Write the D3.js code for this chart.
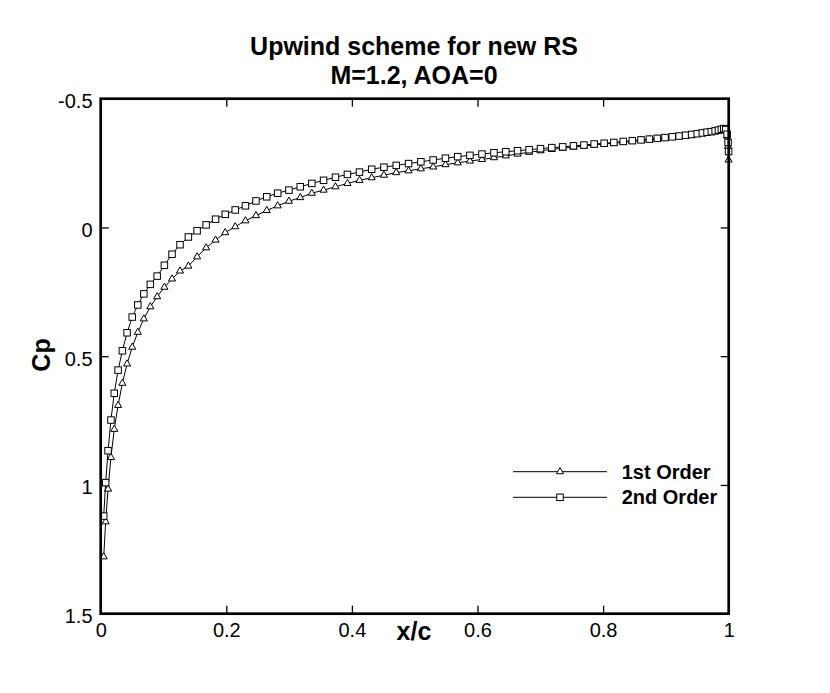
<!DOCTYPE html>
<html><head><meta charset="utf-8">
<script src="https://cdn.jsdelivr.net/npm/d3@7"></script>
<style>body{margin:0;background:#fff} text{font-family:"Liberation Sans",Arial,Helvetica,sans-serif}</style>
</head><body><svg id="c" width="830" height="693"></svg>
<script>
// x/c of surface cells
const xc = [0.0048,0.0079,0.0117,0.0163,0.0216,0.0277,0.0345,0.0420,0.0502,0.0591,
0.0687,0.0790,0.0899,0.1014,0.1136,0.1263,0.1396,0.1535,0.1679,0.1829,
0.1983,0.2142,0.2305,0.2472,0.2644,0.2818,0.2997,0.3178,0.3362,0.3549,
0.3738,0.3929,0.4121,0.4315,0.4510,0.4706,0.4902,0.5098,0.5294,0.5490,
0.5685,0.5879,0.6071,0.6262,0.6451,0.6638,0.6822,0.7003,0.7182,0.7357,
0.7528,0.7695,0.7858,0.8017,0.8171,0.8321,0.8465,0.8604,0.8737,0.8864,
0.8986,0.9101,0.9210,0.9313,0.9409,0.9498,0.9580,0.9655,0.9723,0.9784,
0.9837,0.9883,0.9921,0.9952,0.9975,0.9990,0.9998];
// Cp, 1st order (triangles)
const cpFirst = [1.279,1.143,1.016,0.893,0.784,0.691,0.605,0.530,0.465,0.407,
0.355,0.308,0.269,0.232,0.200,0.169,0.150,0.114,0.079,0.049,
0.020,-0.003,-0.026,-0.046,-0.066,-0.084,-0.102,-0.116,-0.133,-0.145,
-0.158,-0.171,-0.183,-0.193,-0.203,-0.213,-0.220,-0.228,-0.235,-0.244,
-0.251,-0.258,-0.264,-0.271,-0.278,-0.285,-0.292,-0.298,-0.303,-0.308,
-0.312,-0.316,-0.320,-0.324,-0.327,-0.331,-0.334,-0.338,-0.341,-0.344,
-0.347,-0.350,-0.353,-0.356,-0.359,-0.362,-0.365,-0.368,-0.370,-0.373,
-0.376,-0.379,-0.382,-0.378,-0.355,-0.315,-0.262];
// Cp, 2nd order (squares)
const cpSecond = [1.121,0.991,0.867,0.748,0.644,0.554,0.479,0.409,0.348,0.301,
0.258,0.221,0.189,0.147,0.104,0.067,0.037,0.013,-0.010,-0.032,
-0.051,-0.068,-0.084,-0.103,-0.119,-0.133,-0.145,-0.158,-0.171,-0.183,
-0.195,-0.206,-0.215,-0.226,-0.234,-0.241,-0.248,-0.255,-0.262,-0.269,
-0.275,-0.280,-0.285,-0.290,-0.294,-0.298,-0.302,-0.306,-0.310,-0.313,
-0.317,-0.320,-0.324,-0.327,-0.330,-0.334,-0.337,-0.340,-0.343,-0.346,
-0.349,-0.352,-0.355,-0.358,-0.361,-0.364,-0.367,-0.370,-0.372,-0.375,
-0.378,-0.381,-0.384,-0.380,-0.362,-0.330,-0.295];
const xTicks = [0,0.2,0.4,0.6,0.8,1];
const xTickLabels = ["0","0.2","0.4","0.6","0.8","1"];
const yTicks = [-0.5,0,0.5,1,1.5];
const yTickLabels = ["-0.5","0","0.5","1","1.5"];
const seriesNames = ["1st Order","2nd Order"];
const titleLines = ["Upwind scheme for new RS","M=1.2, AOA=0"];

const svg = d3.select("#c");
const L=100.7,R=728.7,T=98.7,B=613.7;
const x = d3.scaleLinear().domain([0,1]).range([L,R]);
const y = d3.scaleLinear().domain([-0.5,1.5]).range([T,B]);

// axes
const gB = svg.append("g").attr("transform",`translate(0,${B})`)
  .call(d3.axisBottom(x).tickValues(xTicks).tickFormat((d,i)=>xTickLabels[i]).tickSizeInner(-8).tickSizeOuter(0).tickPadding(9));
const gT = svg.append("g").attr("transform",`translate(0,${T})`)
  .call(d3.axisTop(x).tickValues(xTicks).tickFormat("").tickSizeInner(-8).tickSizeOuter(0));
const gL = svg.append("g").attr("transform",`translate(${L},0)`)
  .call(d3.axisLeft(y).tickValues(yTicks).tickFormat((d,i)=>yTickLabels[i]).tickSizeInner(-8).tickSizeOuter(0).tickPadding(8.2));
const gR = svg.append("g").attr("transform",`translate(${R},0)`)
  .call(d3.axisRight(y).tickValues(yTicks).tickFormat("").tickSizeInner(-8).tickSizeOuter(0));
[gB,gT,gL,gR].forEach(g=>{
  g.select(".domain").remove();
  g.selectAll(".tick line").attr("stroke","#000").attr("stroke-width",1.3);
  g.selectAll("text").attr("font-size",20).attr("fill","#000").style("font-family",'"Liberation Sans",Arial,sans-serif');
});
gL.selectAll("text").attr("dy","0.45em");

// curves
const line = d3.line().x(d=>x(d[0])).y(d=>y(d[1]));
const d1 = xc.map((v,i)=>[v,cpFirst[i]]);
const d2 = xc.map((v,i)=>[v,cpSecond[i]]);
const triPath = d3.symbol(d3.symbolTriangle, 22)();
const sq = 6.5;

function drawSeries(data, kind){
  svg.append("path").datum(data).attr("d",line).attr("fill","none").attr("stroke","#000").attr("stroke-width",1);
  const g = svg.append("g");
  if(kind==="tri"){
    g.selectAll("path").data(data).join("path").attr("d",triPath)
      .attr("transform",d=>`translate(${x(d[0])},${y(d[1])})`)
      .attr("fill","#fff").attr("stroke","#000").attr("stroke-width",1);
  } else {
    g.selectAll("rect").data(data).join("rect")
      .attr("x",d=>x(d[0])-sq/2).attr("y",d=>y(d[1])-sq/2).attr("width",sq).attr("height",sq)
      .attr("fill","#fff").attr("stroke","#000").attr("stroke-width",1);
  }
}
drawSeries(d1,"tri");
drawSeries(d2,"sq");

// frame
svg.append("rect").attr("x",L).attr("y",T).attr("width",R-L).attr("height",B-T)
  .attr("fill","none").attr("stroke","#000").attr("stroke-width",2.7);

// legend
const legY = [471.7,497.3];
seriesNames.forEach((n,i)=>{
  svg.append("line").attr("x1",513).attr("x2",607).attr("y1",legY[i]).attr("y2",legY[i]).attr("stroke","#000").attr("stroke-width",1);
  if(i===0){
    svg.append("path").attr("d",triPath).attr("transform",`translate(560,${legY[i]})`).attr("fill","#fff").attr("stroke","#000");
  } else {
    svg.append("rect").attr("x",560-sq/2).attr("y",legY[i]-sq/2).attr("width",sq).attr("height",sq).attr("fill","#fff").attr("stroke","#000");
  }
  svg.append("text").attr("x",621.7).attr("y",legY[i]+7).attr("font-size",20).attr("font-weight","bold").text(n);
});

// titles
svg.append("text").attr("x",414).attr("y",55).attr("text-anchor","middle").attr("font-size",25).attr("font-weight","bold").text(titleLines[0]);
svg.append("text").attr("x",414).attr("y",84).attr("text-anchor","middle").attr("font-size",25).attr("font-weight","bold").text(titleLines[1]);
svg.append("text").attr("x",414).attr("y",640).attr("text-anchor","middle").attr("font-size",25).attr("font-weight","bold").text("x/c");
svg.append("text").attr("transform","translate(50,355) rotate(-90)").attr("text-anchor","middle").attr("font-size",25).attr("font-weight","bold").text("Cp");
</script></body></html>
